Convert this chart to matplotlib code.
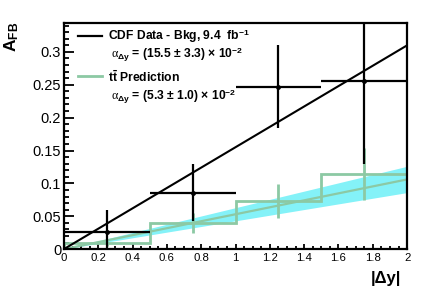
import matplotlib
matplotlib.use("Agg")
import matplotlib.pyplot as plt
import numpy as np

plt.rcParams['font.family'] = ['Liberation Sans', 'DejaVu Sans']
plt.rcParams['mathtext.fontset'] = 'custom'
plt.rcParams['mathtext.rm'] = 'Liberation Sans:bold'
plt.rcParams['mathtext.bf'] = 'Liberation Sans:bold'
plt.rcParams['mathtext.it'] = 'Liberation Serif'
plt.rcParams['mathtext.sf'] = 'Liberation Sans:bold'

# ---- data ----
bin_edges = [0.0, 0.5, 1.0, 1.5, 2.0]
bin_centers = [0.25, 0.75, 1.25, 1.75]
data_afb = [0.026, 0.086, 0.247, 0.255]
data_err = [0.033, 0.044, 0.063, 0.126]
pred_afb = [0.009, 0.040, 0.073, 0.114]
pred_err = [0.004, 0.015, 0.026, 0.040]
data_slope, data_slope_err = 0.155, 0.033
pred_slope, pred_slope_err = 0.053, 0.010
x_ticks = [0, 0.2, 0.4, 0.6, 0.8, 1.0, 1.2, 1.4, 1.6, 1.8, 2.0]
y_ticks = [0, 0.05, 0.1, 0.15, 0.2, 0.25, 0.3]

green = '#8cc9a4'
cyan = '#84f2f8'

fig = plt.figure(figsize=(4.29, 2.91), dpi=100)
ax = fig.add_axes([0.149, 0.144, 0.80, 0.777])

xs = np.linspace(0, 2, 50)
ax.fill_between(xs, (pred_slope - pred_slope_err) * xs, (pred_slope + pred_slope_err) * xs,
                color=cyan, lw=0, zorder=1)
ax.plot(xs, pred_slope * xs, color=green, lw=1.6, zorder=2)
ax.stairs(pred_afb, bin_edges, color=green, lw=2, zorder=2, baseline=0)
ax.errorbar(bin_centers, pred_afb, yerr=pred_err, fmt='none', ecolor=green, elinewidth=2, capsize=0, zorder=2)

ax.plot(xs, data_slope * xs, color='black', lw=1.5, zorder=4)
ax.errorbar(bin_centers, data_afb, yerr=data_err, xerr=0.25, fmt='o', color='black', ms=2.5,
            elinewidth=1.6, capsize=0, zorder=5)

ax.set_xlim(0, 2)
ax.set_ylim(0, 0.344)
ax.set_xticks(x_ticks)
ax.set_xticklabels(['%g' % v for v in x_ticks], fontsize=8.2)
ax.set_yticks(y_ticks)
ax.set_yticklabels(['%g' % v for v in y_ticks], fontsize=10.5)
ax.set_xticks(np.arange(0, 2.001, 0.05), minor=True)
ax.set_yticks(np.arange(0, 0.3441, 0.01), minor=True)
ax.tick_params(axis='both', which='both', direction='in', width=1.3, top=False, right=False)
ax.tick_params(axis='y', which='major', length=7.2, pad=2)
ax.tick_params(axis='y', which='minor', length=3.6)
ax.tick_params(axis='x', which='major', length=3.8, pad=3)
ax.tick_params(axis='x', which='minor', length=2.2)
for s in ax.spines.values():
    s.set_linewidth(1.6)

# legend
fs = 8.7
ax.plot([0.041, 0.111], [0.942, 0.942], color='black', lw=1.6, transform=ax.transAxes)
ax.text(0.128, 0.942, r'CDF Data - Bkg, 9.4  fb$^{-1}$', transform=ax.transAxes,
        fontsize=fs, fontweight='bold', va='center', ha='left')
ax.text(0.137, 0.858, r'$\alpha_{\Delta \mathrm{y}}$ = (15.5 $\pm$ 3.3) $\times$ 10$^{-2}$',
        transform=ax.transAxes, fontsize=fs, fontweight='bold', va='center', ha='left')
ax.plot([0.041, 0.111], [0.765, 0.765], color=green, lw=2, transform=ax.transAxes)
ax.text(0.128, 0.762, r't$\bar{\mathrm{t}}$ Prediction', transform=ax.transAxes,
        fontsize=fs, fontweight='bold', va='center', ha='left')
ax.text(0.137, 0.673, r'$\alpha_{\Delta \mathrm{y}}$ = (5.3 $\pm$ 1.0) $\times$ 10$^{-2}$',
        transform=ax.transAxes, fontsize=fs, fontweight='bold', va='center', ha='left')

fig.text(12 / 429, 1 - 22 / 291, r'A$_{\mathrm{FB}}$', rotation=90, ha='center', va='top',
         fontsize=12.5, fontweight='bold')
fig.text(401 / 429, 1 - 286 / 291, '|Δy|', ha='right', va='bottom', fontsize=12, fontweight='bold')

fig.savefig('out.png', dpi=100)
